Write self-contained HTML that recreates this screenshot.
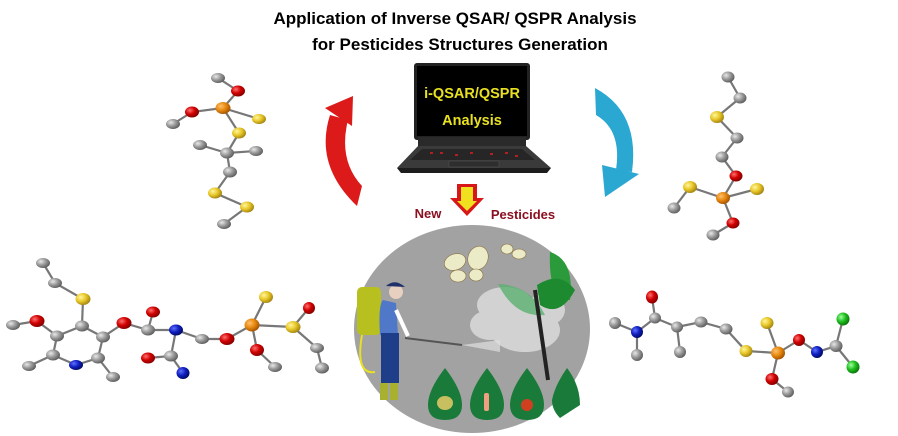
<!DOCTYPE html>
<html><head><meta charset="utf-8"><style>
html,body{margin:0;padding:0;background:#fff;}
svg{display:block;}
</style></head><body>
<svg width="898" height="436" viewBox="0 0 898 436" xmlns="http://www.w3.org/2000/svg" font-family="Liberation Sans, sans-serif">
<defs>
<radialGradient id="gC" cx="35%" cy="35%" r="70%"><stop offset="0" stop-color="#e8e8e8"/><stop offset=".5" stop-color="#9a9a9a"/><stop offset="1" stop-color="#5a5a5a"/></radialGradient>
<radialGradient id="gO" cx="35%" cy="35%" r="70%"><stop offset="0" stop-color="#ff7070"/><stop offset=".5" stop-color="#d00000"/><stop offset="1" stop-color="#800000"/></radialGradient>
<radialGradient id="gS" cx="35%" cy="35%" r="70%"><stop offset="0" stop-color="#fff6a0"/><stop offset=".5" stop-color="#e8c828"/><stop offset="1" stop-color="#a08010"/></radialGradient>
<radialGradient id="gP" cx="35%" cy="35%" r="70%"><stop offset="0" stop-color="#ffc070"/><stop offset=".5" stop-color="#e88a10"/><stop offset="1" stop-color="#a05000"/></radialGradient>
<radialGradient id="gN" cx="35%" cy="35%" r="70%"><stop offset="0" stop-color="#6070ff"/><stop offset=".5" stop-color="#1020c0"/><stop offset="1" stop-color="#000860"/></radialGradient>
<radialGradient id="gL" cx="35%" cy="35%" r="70%"><stop offset="0" stop-color="#a0ffa0"/><stop offset=".5" stop-color="#20c020"/><stop offset="1" stop-color="#087008"/></radialGradient>
</defs>

<!-- Title -->
<text x="455" y="24" text-anchor="middle" font-size="17" font-weight="bold" fill="#000">Application of Inverse QSAR/ QSPR Analysis</text>
<text x="460" y="50" text-anchor="middle" font-size="17" font-weight="bold" fill="#000">for Pesticides Structures Generation</text>

<!-- bonds -->
<g stroke="#777" stroke-width="2.2" fill="none">
<polyline points="218,78 238,91 223,108 192,112 173,124"/>
<polyline points="223,108 259,119"/>
<polyline points="223,108 239,133 227,153 230,172 215,193 247,207 224,224"/>
<polyline points="200,145 227,153 256,151"/>
<polyline points="728,77 740,98 717,117 737,138 722,157 736,176 723,198 733,223 713,235"/>
<polyline points="674,208 690,187 723,198 757,189"/>
<polyline points="43,263 55,283 83,299 82,326"/>
<polyline points="13,325 37,321 57,336 82,326 103,337 98,358 76,365 53,355 57,336"/>
<polyline points="29,366 53,355"/><polyline points="98,358 113,377"/>
<polyline points="103,337 124,323 148,330 153,312"/>
<polyline points="148,330 176,330 171,356 148,358"/><polyline points="171,356 183,373"/>
<polyline points="176,330 202,339 227,339 252,325 266,297"/>
<polyline points="252,325 293,327 309,308"/><polyline points="293,327 317,348 322,368"/>
<polyline points="252,325 257,350 275,367"/>
<polyline points="615,323 637,332 637,355"/>
<polyline points="637,332 655,318 652,297"/>
<polyline points="655,318 677,327 680,352"/>
<polyline points="677,327 701,322 726,329 746,351 778,353 767,323"/>
<polyline points="778,353 799,340 817,352 836,346 843,319"/><polyline points="836,346 853,367"/>
<polyline points="778,353 772,379 788,392"/>
</g>

<!-- atoms -->
<g>
<ellipse cx="218" cy="78" rx="7" ry="5" fill="url(#gC)"/>
<ellipse cx="238" cy="91" rx="7" ry="5.5" fill="url(#gO)"/>
<ellipse cx="223" cy="108" rx="7.5" ry="6" fill="url(#gP)"/>
<ellipse cx="192" cy="112" rx="7" ry="5.5" fill="url(#gO)"/>
<ellipse cx="173" cy="124" rx="7" ry="5" fill="url(#gC)"/>
<ellipse cx="259" cy="119" rx="7" ry="5" fill="url(#gS)"/>
<ellipse cx="239" cy="133" rx="7" ry="5.5" fill="url(#gS)"/>
<ellipse cx="200" cy="145" rx="7" ry="5" fill="url(#gC)"/>
<ellipse cx="227" cy="153" rx="7" ry="5.5" fill="url(#gC)"/>
<ellipse cx="256" cy="151" rx="7" ry="5" fill="url(#gC)"/>
<ellipse cx="230" cy="172" rx="7" ry="5.5" fill="url(#gC)"/>
<ellipse cx="215" cy="193" rx="7" ry="5.5" fill="url(#gS)"/>
<ellipse cx="247" cy="207" rx="7" ry="5.5" fill="url(#gS)"/>
<ellipse cx="224" cy="224" rx="7" ry="5" fill="url(#gC)"/>
<ellipse cx="728" cy="77" rx="6.5" ry="5.5" fill="url(#gC)"/>
<ellipse cx="740" cy="98" rx="6.5" ry="5.5" fill="url(#gC)"/>
<ellipse cx="717" cy="117" rx="7" ry="6" fill="url(#gS)"/>
<ellipse cx="737" cy="138" rx="6.5" ry="5.5" fill="url(#gC)"/>
<ellipse cx="722" cy="157" rx="6.5" ry="5.5" fill="url(#gC)"/>
<ellipse cx="736" cy="176" rx="6.5" ry="5.5" fill="url(#gO)"/>
<ellipse cx="690" cy="187" rx="7" ry="6" fill="url(#gS)"/>
<ellipse cx="723" cy="198" rx="7" ry="6" fill="url(#gP)"/>
<ellipse cx="757" cy="189" rx="7" ry="6" fill="url(#gS)"/>
<ellipse cx="674" cy="208" rx="6.5" ry="5.5" fill="url(#gC)"/>
<ellipse cx="733" cy="223" rx="6.5" ry="5.5" fill="url(#gO)"/>
<ellipse cx="713" cy="235" rx="6.5" ry="5.5" fill="url(#gC)"/>
<ellipse cx="43" cy="263" rx="7" ry="5" fill="url(#gC)"/>
<ellipse cx="55" cy="283" rx="7" ry="5" fill="url(#gC)"/>
<ellipse cx="83" cy="299" rx="7.5" ry="6" fill="url(#gS)"/>
<ellipse cx="13" cy="325" rx="7" ry="5" fill="url(#gC)"/>
<ellipse cx="37" cy="321" rx="7.5" ry="6" fill="url(#gO)"/>
<ellipse cx="57" cy="336" rx="7" ry="5.5" fill="url(#gC)"/>
<ellipse cx="82" cy="326" rx="7" ry="5.5" fill="url(#gC)"/>
<ellipse cx="103" cy="337" rx="7" ry="5.5" fill="url(#gC)"/>
<ellipse cx="124" cy="323" rx="7.5" ry="6" fill="url(#gO)"/>
<ellipse cx="53" cy="355" rx="7" ry="5.5" fill="url(#gC)"/>
<ellipse cx="76" cy="365" rx="7" ry="5" fill="url(#gN)"/>
<ellipse cx="98" cy="358" rx="7" ry="5.5" fill="url(#gC)"/>
<ellipse cx="29" cy="366" rx="7" ry="5" fill="url(#gC)"/>
<ellipse cx="113" cy="377" rx="7" ry="5" fill="url(#gC)"/>
<ellipse cx="153" cy="312" rx="7" ry="5.5" fill="url(#gO)"/>
<ellipse cx="148" cy="330" rx="7" ry="5.5" fill="url(#gC)"/>
<ellipse cx="176" cy="330" rx="7" ry="5.5" fill="url(#gN)"/>
<ellipse cx="171" cy="356" rx="7" ry="5.5" fill="url(#gC)"/>
<ellipse cx="148" cy="358" rx="7" ry="5.5" fill="url(#gO)"/>
<ellipse cx="183" cy="373" rx="6.5" ry="6" fill="url(#gN)"/>
<ellipse cx="202" cy="339" rx="7" ry="5" fill="url(#gC)"/>
<ellipse cx="227" cy="339" rx="7.5" ry="6" fill="url(#gO)"/>
<ellipse cx="252" cy="325" rx="7.5" ry="6.5" fill="url(#gP)"/>
<ellipse cx="266" cy="297" rx="7" ry="6" fill="url(#gS)"/>
<ellipse cx="293" cy="327" rx="7.5" ry="6" fill="url(#gS)"/>
<ellipse cx="309" cy="308" rx="6" ry="6" fill="url(#gO)"/>
<ellipse cx="257" cy="350" rx="7" ry="6" fill="url(#gO)"/>
<ellipse cx="275" cy="367" rx="7" ry="5" fill="url(#gC)"/>
<ellipse cx="317" cy="348" rx="7" ry="5" fill="url(#gC)"/>
<ellipse cx="322" cy="368" rx="7" ry="5.5" fill="url(#gC)"/>
<ellipse cx="615" cy="323" rx="6" ry="6" fill="url(#gC)"/>
<ellipse cx="637" cy="332" rx="6" ry="6" fill="url(#gN)"/>
<ellipse cx="637" cy="355" rx="6" ry="6" fill="url(#gC)"/>
<ellipse cx="655" cy="318" rx="6" ry="5.5" fill="url(#gC)"/>
<ellipse cx="652" cy="297" rx="6" ry="6.5" fill="url(#gO)"/>
<ellipse cx="677" cy="327" rx="6" ry="5.5" fill="url(#gC)"/>
<ellipse cx="680" cy="352" rx="6" ry="6" fill="url(#gC)"/>
<ellipse cx="701" cy="322" rx="6.5" ry="5.5" fill="url(#gC)"/>
<ellipse cx="726" cy="329" rx="6.5" ry="5.5" fill="url(#gC)"/>
<ellipse cx="746" cy="351" rx="6.5" ry="6" fill="url(#gS)"/>
<ellipse cx="778" cy="353" rx="7" ry="6.5" fill="url(#gP)"/>
<ellipse cx="767" cy="323" rx="6.5" ry="6" fill="url(#gS)"/>
<ellipse cx="799" cy="340" rx="6" ry="6" fill="url(#gO)"/>
<ellipse cx="772" cy="379" rx="6.5" ry="6" fill="url(#gO)"/>
<ellipse cx="788" cy="392" rx="6" ry="5.5" fill="url(#gC)"/>
<ellipse cx="817" cy="352" rx="6" ry="6" fill="url(#gN)"/>
<ellipse cx="836" cy="346" rx="6.5" ry="6" fill="url(#gC)"/>
<ellipse cx="843" cy="319" rx="6.5" ry="6.5" fill="url(#gL)"/>
<ellipse cx="853" cy="367" rx="6.5" ry="6.5" fill="url(#gL)"/>
</g>

<!-- red curved arrow -->
<path d="M330,115 Q314,165 357,206 L362,186 Q338,160 348,120 Z" fill="#dd1a1a"/>
<polygon points="325,108 353,96 352,126" fill="#dd1a1a"/>
<!-- blue curved arrow -->
<path d="M595,88 Q640,112 632,172 L616,170 Q622,130 596,115 Z" fill="#2aa8d2"/>
<polygon points="602,165 639,174 605,197" fill="#2aa8d2"/>

<!-- laptop -->
<rect x="414" y="63" width="116" height="77" rx="3" fill="#222"/>
<rect x="417" y="66" width="110" height="70" fill="#000"/>
<rect x="418" y="137" width="108" height="9" fill="#2a2a2a"/>
<polygon points="418,146 526,146 551,168 397,168" fill="#3a3a3a"/>
<polygon points="422,149 522,149 535,160 410,160" fill="#262626"/>
<g fill="#b02020"><rect x="430" y="152" width="3" height="2"/><rect x="440" y="152" width="3" height="2"/><rect x="455" y="154" width="3" height="2"/><rect x="470" y="152" width="3" height="2"/><rect x="490" y="153" width="3" height="2"/><rect x="505" y="152" width="3" height="2"/><rect x="515" y="155" width="3" height="2"/></g>
<rect x="449" y="161" width="50" height="6" fill="#2e2e2e" stroke="#555" stroke-width=".5"/>
<polygon points="397,168 551,168 547,173 401,173" fill="#1c1c1c"/>
<text x="472" y="98" text-anchor="middle" font-size="14.5" font-weight="bold" fill="#e8e020">i-QSAR/QSPR</text>
<text x="472" y="125" text-anchor="middle" font-size="14.5" font-weight="bold" fill="#e8e020">Analysis</text>

<!-- down arrow -->
<polygon points="457,184 477,184 477,198 484,198 467,216 450,198 457,198" fill="#d81818"/>
<polygon points="461,187 473,187 473,201 477,201 467,211 457,201 461,201" fill="#f0e020"/>
<text x="428" y="218" text-anchor="middle" font-size="13" font-weight="bold" fill="#8a1020">New</text>
<text x="523" y="219" text-anchor="middle" font-size="13" font-weight="bold" fill="#8a1020">Pesticides</text>

<!-- circle scene -->
<ellipse cx="472" cy="329" rx="118" ry="104" fill="#a2a2a2"/>
<g fill="#d8d8d8" opacity=".9">
<ellipse cx="505" cy="305" rx="28" ry="18"/><ellipse cx="525" cy="330" rx="35" ry="22"/><ellipse cx="490" cy="325" rx="20" ry="15"/><ellipse cx="545" cy="310" rx="20" ry="16"/>
</g>
<path d="M550,252 Q575,260 570,300 Q548,300 550,252Z" fill="#2a9a3a"/>
<path d="M537,285 Q560,270 575,290 Q560,318 540,305Z" fill="#1e8a30"/>
<path d="M498,284 Q530,285 545,315 Q515,318 498,284Z" fill="#5ab070" opacity=".8"/>
<path d="M535,290 L548,380" stroke="#222" stroke-width="4"/>
<!-- butterflies -->
<g fill="#ecebc8" stroke="#8a7040" stroke-width=".6">
<ellipse cx="455" cy="262" rx="11" ry="8" transform="rotate(-20 455 262)"/>
<ellipse cx="478" cy="258" rx="10" ry="12" transform="rotate(20 478 258)"/>
<ellipse cx="458" cy="276" rx="8" ry="6"/>
<ellipse cx="476" cy="275" rx="7" ry="6"/>
<ellipse cx="507" cy="249" rx="6" ry="5"/>
<ellipse cx="519" cy="254" rx="7" ry="5"/>
</g>
<!-- farmer -->
<rect x="357" y="287" width="24" height="48" rx="5" fill="#b8c020"/>
<path d="M362,335 Q355,375 375,372" stroke="#e8e020" stroke-width="2" fill="none"/>
<path d="M383,300 Q378,305 380,335 L398,335 L396,303 Z" fill="#4f78c8"/>
<rect x="381" y="333" width="18" height="50" fill="#1e3e8a"/>
<rect x="380" y="383" width="8" height="17" fill="#a8b030"/><rect x="390" y="383" width="8" height="17" fill="#a8b030"/>
<circle cx="396" cy="292" r="7" fill="#e8d0c0"/>
<path d="M386,286 Q395,278 405,287 Z" fill="#20306a"/>
<path d="M396,310 L408,336" stroke="#fff" stroke-width="4"/>
<line x1="405" y1="338" x2="462" y2="345" stroke="#555" stroke-width="2"/>
<path d="M462,345 L500,340 L500,352 Z" fill="#e0e0e0" opacity=".7"/>
<!-- drops -->
<path d="M445,368 Q462,390 462,405 Q462,420 445,420 Q428,420 428,405 Q428,390 445,368Z" fill="#1a7a3a"/>
<ellipse cx="445" cy="403" rx="8" ry="7" fill="#c8c060"/>
<path d="M487,368 Q504,390 504,405 Q504,420 487,420 Q470,420 470,405 Q470,390 487,368Z" fill="#1a7a3a"/>
<rect x="484" y="393" width="5" height="18" rx="2" fill="#f0a080"/>
<path d="M527,368 Q544,390 544,405 Q544,420 527,420 Q510,420 510,405 Q510,390 527,368Z" fill="#1a7a3a"/>
<circle cx="527" cy="405" r="6" fill="#d04020"/>
<path d="M567,368 Q580,385 580,405 L560,418 Q552,410 552,400 Q555,385 567,368Z" fill="#1a7a3a"/>
</svg>
</body></html>
